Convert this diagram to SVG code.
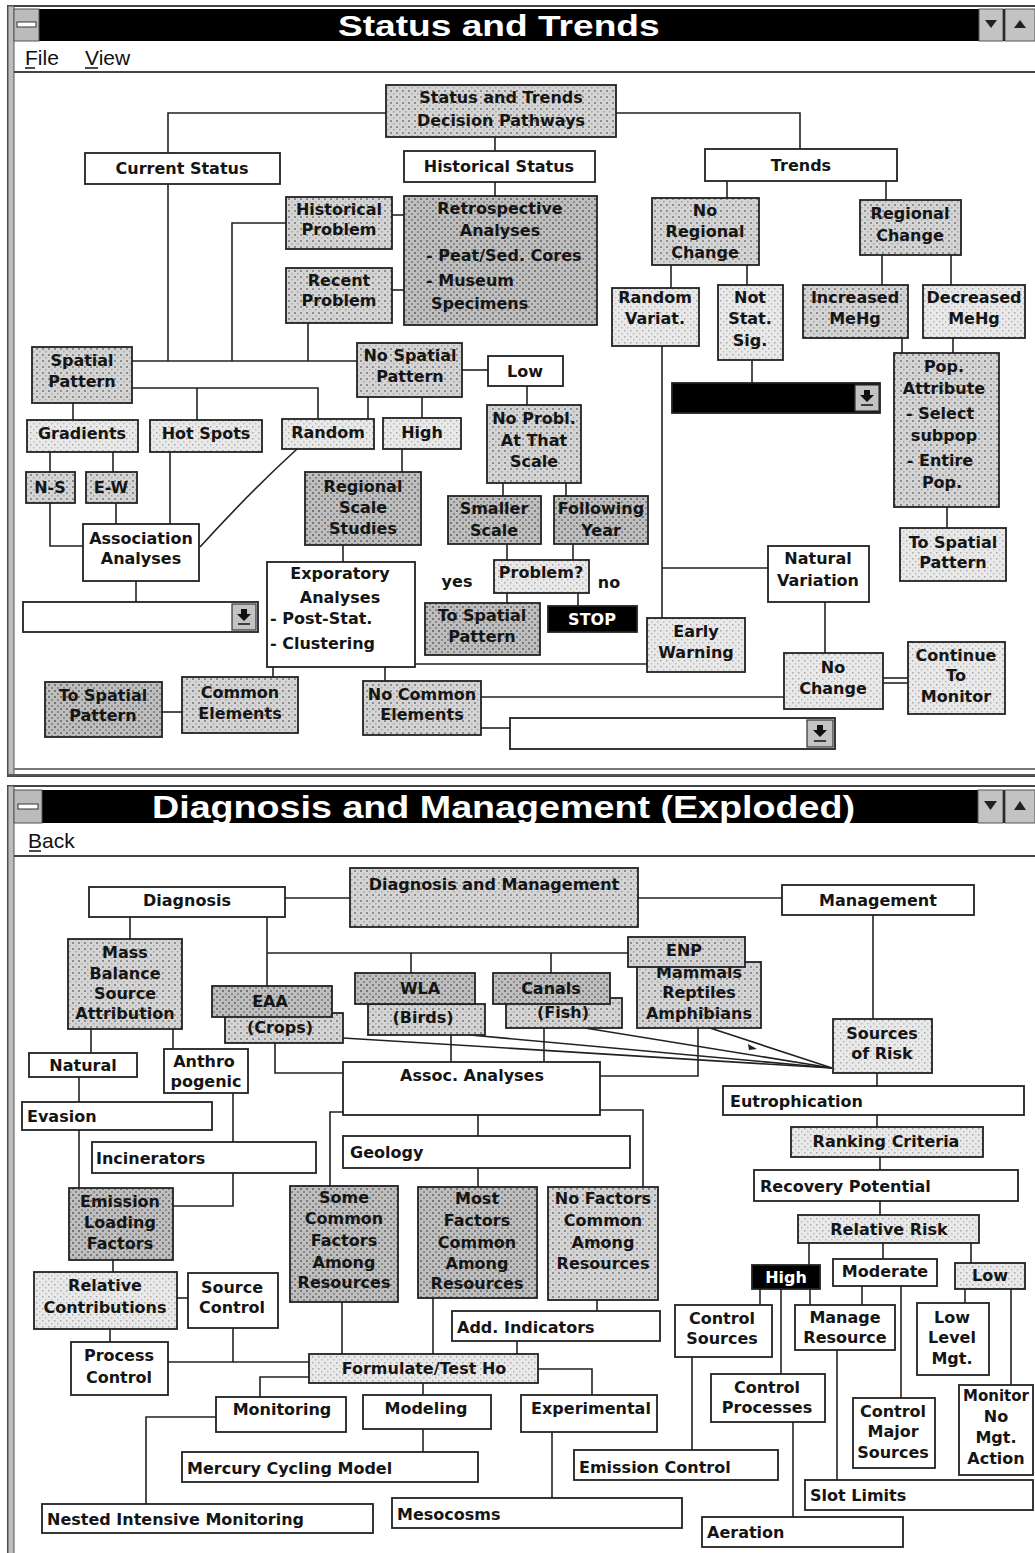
<svg xmlns="http://www.w3.org/2000/svg" width="1035" height="1553" viewBox="0 0 1035 1553">
<defs>
<pattern id="pl" width="6" height="6" patternUnits="userSpaceOnUse"><rect width="6" height="6" fill="#e9e9e9"/><rect x="0" y="0" width="1.5" height="1.5" fill="#a9a9a9"/><rect x="3" y="3" width="1.5" height="1.5" fill="#bdbdbd"/></pattern>
<pattern id="pm" width="6" height="6" patternUnits="userSpaceOnUse"><rect width="6" height="6" fill="#d4d4d4"/><rect x="0" y="0" width="2" height="2" fill="#8e8e8e"/><rect x="3" y="3" width="1.5" height="1.5" fill="#a4a4a4"/></pattern>
<pattern id="pd" width="6" height="6" patternUnits="userSpaceOnUse"><rect width="6" height="6" fill="#bebebe"/><rect x="0" y="0" width="2" height="2" fill="#777"/><rect x="3" y="3" width="2" height="2" fill="#8a8a8a"/></pattern>
<style>
.bx{stroke:#222;stroke-width:1.8}
.w{fill:#fff}
.l{fill:url(#pl)}
.m{fill:url(#pm)}
.d{fill:url(#pd)}
.k{fill:#000}
.btn{fill:#c3c3c3;stroke:#333;stroke-width:1.2}
text{font-family:"DejaVu Sans","Liberation Sans",sans-serif;font-weight:bold;font-size:16px;fill:#151515}
.t{text-anchor:middle}
.s{text-anchor:start}
.wt{fill:#fff}
.sm{font-size:15px}
text.title{font-family:"Liberation Sans",Arial,sans-serif;font-weight:bold;fill:#fff}
text.t1{font-size:30px}
text.t2{font-size:32px}
text.menu{font-family:"Liberation Sans",Arial,sans-serif;font-weight:normal;font-size:21px;fill:#111}
#connectors path{stroke:#222;stroke-width:1.6;fill:none}
</style>
</defs>

<rect width="1035" height="1553" fill="#fff"/>

<!-- Window 1 chrome -->
<g id="window-status">
<rect x="8" y="6" width="1040" height="770" fill="#fff" stroke="#444" stroke-width="2"/>
<rect x="8" y="6" width="6" height="770" fill="#bdbdbd" stroke="#555" stroke-width="1"/>
<rect x="14" y="9" width="1021" height="32" fill="#000"/>
<rect x="14" y="9" width="25" height="32" fill="#bbb" stroke="#555"/>
<rect x="17" y="22" width="19" height="5" fill="#fff" stroke="#333"/>
<rect x="979" y="9" width="24" height="32" fill="#c3c3c3" stroke="#555"/>
<polygon points="985,20 997,20 991,28" fill="#222"/>
<rect x="1005" y="9" width="30" height="32" fill="#c3c3c3" stroke="#555"/>
<polygon points="1014,28 1026,28 1020,20" fill="#222"/>
<text class="title t1" transform="translate(338,36) scale(1.237,1)" x="0" y="0">Status and Trends</text>
<text class="menu" x="25" y="65">File</text>
<line x1="25" y1="68" x2="35" y2="68" stroke="#111" stroke-width="1.5"/>
<text class="menu" x="85" y="65">View</text>
<line x1="85" y1="68" x2="98" y2="68" stroke="#111" stroke-width="1.5"/>
<line x1="14" y1="72" x2="1035" y2="72" stroke="#444" stroke-width="2"/>
<line x1="14" y1="769" x2="1035" y2="769" stroke="#777" stroke-width="2"/>
<line x1="8" y1="775" x2="1035" y2="775" stroke="#555" stroke-width="2"/>
</g>

<!-- Window 2 chrome -->
<g id="window-diagnosis">
<rect x="8" y="786" width="1040" height="775" fill="#fff" stroke="#444" stroke-width="2"/>
<rect x="8" y="786" width="6" height="770" fill="#bdbdbd" stroke="#555" stroke-width="1"/>
<rect x="14" y="790" width="1021" height="33" fill="#000"/>
<rect x="14" y="790" width="28" height="33" fill="#bbb" stroke="#555"/>
<rect x="18" y="804" width="20" height="5" fill="#fff" stroke="#333"/>
<rect x="978" y="790" width="25" height="33" fill="#c3c3c3" stroke="#555"/>
<polygon points="984,801 997,801 990.5,810" fill="#222"/>
<rect x="1005" y="790" width="30" height="33" fill="#c3c3c3" stroke="#555"/>
<polygon points="1014,810 1026,810 1020,801" fill="#222"/>
<text class="title t2" transform="translate(152,818) scale(1.177,1)" x="0" y="0">Diagnosis and Management (Exploded)</text>
<text class="menu" x="28" y="848">Back</text>
<line x1="29" y1="851" x2="41" y2="851" stroke="#111" stroke-width="1.5"/>
<line x1="14" y1="856" x2="1035" y2="856" stroke="#444" stroke-width="2"/>
</g>

<g id="connectors">
<path d="M386,113 H168 V153"/>
<path d="M616,113 H800 V149"/>
<path d="M495,137 V151"/>
<path d="M495,182 V196"/>
<path d="M392,215 H404"/>
<path d="M392,290 H404"/>
<path d="M168,184 V361"/>
<path d="M286,223 H232 V361"/>
<path d="M308,323 V361"/>
<path d="M132,361 H357"/>
<path d="M132,388 H318 V419"/>
<path d="M197,388 V420"/>
<path d="M73,403 V420"/>
<path d="M50,452 V472"/>
<path d="M113,452 V472"/>
<path d="M50,503 V546 H83"/>
<path d="M116,503 V524"/>
<path d="M170,452 V524"/>
<path d="M297,449 Q250,492 200,547"/>
<path d="M136,581 V602"/>
<path d="M368,397 V419"/>
<path d="M422,397 V418"/>
<path d="M462,370 H488"/>
<path d="M402,449 V472"/>
<path d="M343,545 V562"/>
<path d="M527,386 V405"/>
<path d="M503,483 V496"/>
<path d="M566,483 V496"/>
<path d="M507,544 V560"/>
<path d="M573,544 V560"/>
<path d="M507,593 V603"/>
<path d="M578,593 V606"/>
<path d="M273,667 V677"/>
<path d="M385,667 V681"/>
<path d="M415,664 H647"/>
<path d="M162,712 H182"/>
<path d="M481,697 H784"/>
<path d="M481,728 H510"/>
<path d="M727,181 V198"/>
<path d="M886,181 V200"/>
<path d="M671,265 V288"/>
<path d="M747,265 V285"/>
<path d="M662,346 V618"/>
<path d="M662,568 H768"/>
<path d="M752,360 V383"/>
<path d="M882,255 V285"/>
<path d="M951,255 V285"/>
<path d="M902,338 V353"/>
<path d="M953,338 V353"/>
<path d="M947,507 V528"/>
<path d="M825,602 V653"/>
<path d="M883,678 H908"/>
<path d="M883,683 H908"/>

<path d="M285,898 H350"/>
<path d="M638,898 H782"/>
<path d="M130,917 V939"/>
<path d="M267,917 V986"/>
<path d="M267,953 H628"/>
<path d="M411,953 V973"/>
<path d="M551,953 V973"/>
<path d="M873,915 V1019"/>
<path d="M91,1029 V1053"/>
<path d="M173,1029 V1049"/>
<path d="M79,1077 V1102"/>
<path d="M79,1130 V1188"/>
<path d="M233,1093 V1142"/>
<path d="M233,1173 V1206 H173"/>
<path d="M113,1260 V1272"/>
<path d="M177,1298 H188"/>
<path d="M110,1329 V1342"/>
<path d="M168,1362 H309"/>
<path d="M233,1328 V1362"/>
<path d="M275,1043 V1073 H343"/>
<path d="M451,1035 V1062"/>
<path d="M544,1028 V1062"/>
<path d="M600,1076 H698 V1028"/>
<path d="M343,1038 L832,1068"/>
<path d="M470,1035 L832,1068"/>
<path d="M585,1028 L832,1068"/>
<path d="M710,1028 L832,1068"/>
<path d="M343,1112 H330 V1186"/>
<path d="M478,1115 V1136"/>
<path d="M478,1168 V1187"/>
<path d="M600,1110 H643 V1187"/>
<path d="M342,1302 V1354"/>
<path d="M433,1298 V1354"/>
<path d="M597,1300 V1311"/>
<path d="M517,1341 V1354"/>
<path d="M309,1377 H260 V1397"/>
<path d="M423,1383 V1395"/>
<path d="M538,1369 H592 V1395"/>
<path d="M216,1417 H146 V1504"/>
<path d="M423,1429 V1452"/>
<path d="M552,1432 V1498"/>
<path d="M877,1073 V1086"/>
<path d="M877,1115 V1127"/>
<path d="M880,1157 V1170"/>
<path d="M880,1201 V1215"/>
<path d="M809,1243 V1265"/>
<path d="M883,1243 V1259"/>
<path d="M971,1243 V1263"/>
<path d="M760,1289 V1305"/>
<path d="M781,1289 V1374"/>
<path d="M810,1289 V1305"/>
<path d="M862,1286 V1305"/>
<path d="M901,1286 V1398"/>
<path d="M965,1289 V1303"/>
<path d="M1011,1289 V1385"/>
<path d="M837,1350 V1480"/>
<path d="M692,1357 V1450"/>
<path d="M793,1422 V1517"/>
<polygon points="748,1044 757,1049 749,1050" fill="#222"/>
</g>

<g id="edge-labels">
<text class="t" x="457" y="587">yes</text>
<text class="t" x="609" y="588">no</text>
</g>

<!-- Top window nodes -->
<g id="n-sat"><rect class="bx m" x="386" y="85" width="230" height="52"/><text class="t" x="501" y="103">Status and Trends</text><text class="t" x="501" y="126">Decision Pathways</text></g>
<g id="n-current"><rect class="bx w" x="85" y="153" width="195" height="31"/><text class="t" x="182" y="174">Current Status</text></g>
<g id="n-historical"><rect class="bx w" x="404" y="151" width="191" height="31"/><text class="t" x="499" y="172">Historical Status</text></g>
<g id="n-trends"><rect class="bx w" x="705" y="149" width="192" height="32"/><text class="t" x="801" y="171">Trends</text></g>
<g id="n-histprob"><rect class="bx m" x="286" y="197" width="106" height="52"/><text class="t" x="339" y="215">Historical</text><text class="t" x="339" y="235">Problem</text></g>
<g id="n-recentprob"><rect class="bx m" x="286" y="268" width="106" height="55"/><text class="t" x="339" y="286">Recent</text><text class="t" x="339" y="306">Problem</text></g>
<g id="n-retro"><rect class="bx d" x="404" y="196" width="193" height="129"/><text class="t" x="500" y="214">Retrospective</text><text class="t" x="500" y="236">Analyses</text><text class="s" x="426" y="261">- Peat/Sed. Cores</text><text class="s" x="426" y="286">- Museum</text><text class="s" x="431" y="309">Specimens</text></g>
<g id="n-spatial"><rect class="bx m" x="32" y="347" width="100" height="56"/><text class="t" x="82" y="366">Spatial</text><text class="t" x="82" y="387">Pattern</text></g>
<g id="n-nospatial"><rect class="bx m" x="357" y="343" width="105" height="54"/><text class="t" x="410" y="361">No Spatial</text><text class="t" x="410" y="382">Pattern</text></g>
<g id="n-low"><rect class="bx w" x="488" y="356" width="75" height="30"/><text class="t" x="525" y="377">Low</text></g>
<g id="n-gradients"><rect class="bx l" x="27" y="420" width="111" height="32"/><text class="t" x="82" y="439">Gradients</text></g>
<g id="n-hotspots"><rect class="bx l" x="150" y="420" width="112" height="32"/><text class="t" x="206" y="439">Hot Spots</text></g>
<g id="n-random"><rect class="bx l" x="282" y="419" width="92" height="30"/><text class="t" x="328" y="438">Random</text></g>
<g id="n-high"><rect class="bx l" x="383" y="418" width="78" height="31"/><text class="t" x="422" y="438">High</text></g>
<g id="n-ns"><rect class="bx m" x="26" y="472" width="49" height="31"/><text class="t" x="50" y="493">N-S</text></g>
<g id="n-ew"><rect class="bx m" x="86" y="472" width="51" height="31"/><text class="t" x="111" y="493">E-W</text></g>
<g id="n-noprobl"><rect class="bx m" x="487" y="405" width="94" height="78"/><text class="t" x="534" y="424">No Probl.</text><text class="t" x="534" y="446">At That</text><text class="t" x="534" y="467">Scale</text></g>
<g id="n-regional"><rect class="bx d" x="305" y="472" width="116" height="73"/><text class="t" x="363" y="492">Regional</text><text class="t" x="363" y="513">Scale</text><text class="t" x="363" y="534">Studies</text></g>
<g id="n-association"><rect class="bx w" x="83" y="524" width="116" height="57"/><text class="t" x="141" y="544">Association</text><text class="t" x="141" y="564">Analyses</text></g>
<g id="n-smaller"><rect class="bx d" x="448" y="496" width="93" height="48"/><text class="t" x="494" y="514">Smaller</text><text class="t" x="494" y="536">Scale</text></g>
<g id="n-following"><rect class="bx d" x="554" y="496" width="94" height="48"/><text class="t" x="601" y="514">Following</text><text class="t" x="601" y="536">Year</text></g>
<g id="n-problem"><rect class="bx l" x="494" y="560" width="95" height="33"/><text class="t" x="541" y="578">Problem?</text></g>
<g id="n-tsp-mid"><rect class="bx d" x="425" y="603" width="115" height="52"/><text class="t" x="482" y="621">To Spatial</text><text class="t" x="482" y="642">Pattern</text></g>
<g id="n-stop"><rect class="bx k" x="548" y="606" width="89" height="26"/><text class="t wt" x="592" y="625">STOP</text></g>
<g id="n-exploratory"><rect class="bx w" x="267" y="562" width="148" height="105"/><text class="t" x="340" y="579">Exporatory</text><text class="t" x="340" y="603">Analyses</text><text class="s" x="270" y="624">- Post-Stat.</text><text class="s" x="270" y="649">- Clustering</text></g>
<g id="n-tsp-left"><rect class="bx d" x="45" y="682" width="117" height="55"/><text class="t" x="103" y="701">To Spatial</text><text class="t" x="103" y="721">Pattern</text></g>
<g id="n-common"><rect class="bx m" x="182" y="677" width="116" height="56"/><text class="t" x="240" y="698">Common</text><text class="t" x="240" y="719">Elements</text></g>
<g id="n-nocommon"><rect class="bx m" x="363" y="681" width="118" height="54"/><text class="t" x="422" y="700">No Common</text><text class="t" x="422" y="720">Elements</text></g>
<g id="n-noregional"><rect class="bx m" x="652" y="198" width="107" height="67"/><text class="t" x="705" y="216">No</text><text class="t" x="705" y="237">Regional</text><text class="t" x="705" y="258">Change</text></g>
<g id="n-regchange"><rect class="bx m" x="860" y="200" width="101" height="55"/><text class="t" x="910" y="219">Regional</text><text class="t" x="910" y="241">Change</text></g>
<g id="n-randvar"><rect class="bx l" x="612" y="288" width="87" height="58"/><text class="t" x="655" y="303">Random</text><text class="t" x="655" y="324">Variat.</text></g>
<g id="n-notstat"><rect class="bx l" x="718" y="285" width="65" height="75"/><text class="t" x="750" y="303">Not</text><text class="t" x="750" y="324">Stat.</text><text class="t" x="750" y="346">Sig.</text></g>
<g id="n-increased"><rect class="bx m" x="803" y="285" width="105" height="53"/><text class="t" x="855" y="303">Increased</text><text class="t" x="855" y="324">MeHg</text></g>
<g id="n-decreased"><rect class="bx l" x="923" y="285" width="102" height="53"/><text class="t" x="974" y="303">Decreased</text><text class="t" x="974" y="324">MeHg</text></g>
<g id="n-pop"><rect class="bx m" x="894" y="353" width="105" height="154"/><text class="t" x="944" y="372">Pop.</text><text class="t" x="944" y="394">Attribute</text><text class="t" x="940" y="419">- Select</text><text class="t" x="944" y="441">subpop</text><text class="t" x="940" y="466">- Entire</text><text class="t" x="942" y="488">Pop.</text></g>
<g id="n-tsp-right"><rect class="bx l" x="900" y="528" width="106" height="53"/><text class="t" x="953" y="548">To Spatial</text><text class="t" x="953" y="568">Pattern</text></g>
<g id="n-natvar"><rect class="bx w" x="768" y="546" width="101" height="56"/><text class="t" x="818" y="564">Natural</text><text class="t" x="818" y="586">Variation</text></g>
<g id="n-early"><rect class="bx l" x="647" y="618" width="98" height="54"/><text class="t" x="696" y="637">Early</text><text class="t" x="696" y="658">Warning</text></g>
<g id="n-nochange"><rect class="bx l" x="784" y="653" width="99" height="56"/><text class="t" x="833" y="673">No</text><text class="t" x="833" y="694">Change</text></g>
<g id="n-continue"><rect class="bx l" x="908" y="642" width="97" height="72"/><text class="t" x="956" y="661">Continue</text><text class="t" x="956" y="681">To</text><text class="t" x="956" y="702">Monitor</text></g>
<g id="dropdown-1"><rect class="bx w" x="23" y="602" width="235" height="30"/><rect class="btn" x="232" y="604" width="24" height="26"/><polygon points="241,609 247,609 247,614 251,614 244,621 237,614 241,614" fill="#111"/><line x1="238" y1="624" x2="250" y2="624" stroke="#111" stroke-width="1.5"/></g>
<g id="dropdown-2"><rect class="bx w" x="510" y="718" width="325" height="31"/><rect class="btn" x="807" y="720" width="26" height="27"/><polygon points="817,725 823,725 823,730 827,730 820,737 813,730 817,730" fill="#111"/><line x1="814" y1="741" x2="826" y2="741" stroke="#111" stroke-width="1.5"/></g>
<g id="dropdown-3"><rect class="bx k" x="672" y="383" width="208" height="30"/><rect class="btn" x="855" y="385" width="24" height="26"/><polygon points="864,390 870,390 870,395 874,395 867,402 860,395 864,395" fill="#111"/><line x1="861" y1="405" x2="873" y2="405" stroke="#111" stroke-width="1.5"/></g>

<!-- Bottom window nodes -->
<g id="n-diagnosis"><rect class="bx w" x="89" y="887" width="196" height="30"/><text class="t" x="187" y="906">Diagnosis</text></g>
<g id="n-dm"><rect class="bx m" x="350" y="868" width="288" height="59"/><text class="t" x="494" y="890">Diagnosis and Management</text></g>
<g id="n-management"><rect class="bx w" x="782" y="885" width="192" height="30"/><text class="t" x="878" y="906">Management</text></g>
<g id="n-mass"><rect class="bx m" x="68" y="939" width="114" height="90"/><text class="t" x="125" y="958">Mass</text><text class="t" x="125" y="979">Balance</text><text class="t" x="125" y="999">Source</text><text class="t" x="125" y="1019">Attribution</text></g>
<g id="n-eaa"><rect class="bx m" x="225" y="1013" width="118" height="30"/><text class="t" x="280" y="1033">(Crops)</text><rect class="bx d" x="212" y="986" width="120" height="31"/><text class="t" x="270" y="1007">EAA</text></g>
<g id="n-wla"><rect class="bx m" x="368" y="1004" width="117" height="31"/><text class="t" x="423" y="1023">(Birds)</text><rect class="bx d" x="355" y="973" width="120" height="31"/><text class="t" x="420" y="994">WLA</text></g>
<g id="n-canals"><rect class="bx m" x="506" y="998" width="116" height="30"/><text class="t" x="563" y="1018">(Fish)</text><rect class="bx d" x="493" y="973" width="117" height="31"/><text class="t" x="551" y="994">Canals</text></g>
<g id="n-enp"><rect class="bx m" x="637" y="962" width="124" height="66"/><text class="t" x="699" y="978">Mammals</text><text class="t" x="699" y="998">Reptiles</text><text class="t" x="699" y="1019">Amphibians</text><rect class="bx m" x="628" y="937" width="117" height="30"/><text class="t" x="684" y="956">ENP</text></g>
<g id="n-sources"><rect class="bx l" x="833" y="1019" width="99" height="54"/><text class="t" x="882" y="1039">Sources</text><text class="t" x="882" y="1059">of Risk</text></g>
<g id="n-natural"><rect class="bx w" x="29" y="1053" width="108" height="24"/><text class="t" x="83" y="1071">Natural</text></g>
<g id="n-anthro"><rect class="bx w" x="164" y="1049" width="84" height="44"/><text class="t" x="204" y="1067">Anthro</text><text class="t" x="206" y="1087">pogenic</text></g>
<g id="n-assocan"><rect class="bx w" x="343" y="1062" width="257" height="53"/><text class="t" x="472" y="1081">Assoc. Analyses</text></g>
<g id="n-evasion"><rect class="bx w" x="22" y="1102" width="190" height="28"/><text class="s" x="27" y="1122">Evasion</text></g>
<g id="n-incinerators"><rect class="bx w" x="92" y="1142" width="224" height="31"/><text class="s" x="96" y="1164">Incinerators</text></g>
<g id="n-eutro"><rect class="bx w" x="723" y="1086" width="301" height="29"/><text class="s" x="730" y="1107">Eutrophication</text></g>
<g id="n-geology"><rect class="bx w" x="343" y="1136" width="287" height="32"/><text class="s" x="350" y="1158">Geology</text></g>
<g id="n-ranking"><rect class="bx l" x="791" y="1127" width="192" height="30"/><text class="t" x="886" y="1147">Ranking Criteria</text></g>
<g id="n-recovery"><rect class="bx w" x="754" y="1170" width="264" height="31"/><text class="s" x="760" y="1192">Recovery Potential</text></g>
<g id="n-relrisk"><rect class="bx l" x="798" y="1215" width="181" height="28"/><text class="t" x="889" y="1235">Relative Risk</text></g>
<g id="n-emission"><rect class="bx d" x="69" y="1188" width="104" height="72"/><text class="t" x="120" y="1207">Emission</text><text class="t" x="120" y="1228">Loading</text><text class="t" x="120" y="1249">Factors</text></g>
<g id="n-some"><rect class="bx d" x="290" y="1186" width="108" height="116"/><text class="t" x="344" y="1203">Some</text><text class="t" x="344" y="1224">Common</text><text class="t" x="344" y="1246">Factors</text><text class="t" x="344" y="1268">Among</text><text class="t" x="344" y="1288">Resources</text></g>
<g id="n-most"><rect class="bx d" x="418" y="1187" width="119" height="111"/><text class="t" x="477" y="1204">Most</text><text class="t" x="477" y="1226">Factors</text><text class="t" x="477" y="1248">Common</text><text class="t" x="477" y="1269">Among</text><text class="t" x="477" y="1289">Resources</text></g>
<g id="n-nofactors"><rect class="bx m" x="548" y="1187" width="110" height="113"/><text class="t" x="603" y="1204">No Factors</text><text class="t" x="603" y="1226">Common</text><text class="t" x="603" y="1248">Among</text><text class="t" x="603" y="1269">Resources</text></g>
<g id="n-relcontrib"><rect class="bx l" x="34" y="1272" width="143" height="57"/><text class="t" x="105" y="1291">Relative</text><text class="t" x="105" y="1313">Contributions</text></g>
<g id="n-srcctrl"><rect class="bx w" x="188" y="1273" width="90" height="55"/><text class="t" x="232" y="1293">Source</text><text class="t" x="232" y="1313">Control</text></g>
<g id="n-procctrl"><rect class="bx w" x="71" y="1342" width="97" height="53"/><text class="t" x="119" y="1361">Process</text><text class="t" x="119" y="1383">Control</text></g>
<g id="n-addind"><rect class="bx w" x="452" y="1311" width="208" height="30"/><text class="s" x="457" y="1333">Add. Indicators</text></g>
<g id="n-formulate"><rect class="bx l" x="309" y="1354" width="229" height="29"/><text class="t" x="424" y="1374">Formulate/Test Ho</text></g>
<g id="n-monitoring"><rect class="bx w" x="216" y="1397" width="130" height="35"/><text class="t" x="282" y="1415">Monitoring</text></g>
<g id="n-modeling"><rect class="bx w" x="363" y="1395" width="128" height="34"/><text class="t" x="426" y="1414">Modeling</text></g>
<g id="n-experimental"><rect class="bx w" x="521" y="1395" width="136" height="37"/><text class="t" x="591" y="1414">Experimental</text></g>
<g id="n-mercury"><rect class="bx w" x="182" y="1452" width="296" height="30"/><text class="s" x="187" y="1474">Mercury Cycling Model</text></g>
<g id="n-nested"><rect class="bx w" x="42" y="1504" width="331" height="29"/><text class="s" x="47" y="1525">Nested Intensive Monitoring</text></g>
<g id="n-mesocosms"><rect class="bx w" x="392" y="1498" width="290" height="30"/><text class="s" x="397" y="1520">Mesocosms</text></g>
<g id="n-emctrl"><rect class="bx w" x="574" y="1450" width="204" height="30"/><text class="s" x="579" y="1473">Emission Control</text></g>
<g id="n-high2"><rect class="bx k" x="752" y="1265" width="68" height="24"/><text class="t wt" x="786" y="1283">High</text></g>
<g id="n-moderate"><rect class="bx w" x="833" y="1259" width="104" height="27"/><text class="t" x="885" y="1277">Moderate</text></g>
<g id="n-low2"><rect class="bx l" x="955" y="1263" width="70" height="26"/><text class="t" x="990" y="1281">Low</text></g>
<g id="n-ctrlsrc"><rect class="bx w" x="675" y="1305" width="97" height="52"/><text class="t" x="722" y="1324">Control</text><text class="t" x="722" y="1344">Sources</text></g>
<g id="n-manage"><rect class="bx w" x="795" y="1305" width="100" height="45"/><text class="t" x="845" y="1323">Manage</text><text class="t" x="845" y="1343">Resource</text></g>
<g id="n-ctrlproc"><rect class="bx w" x="711" y="1374" width="114" height="48"/><text class="t" x="767" y="1393">Control</text><text class="t" x="767" y="1413">Processes</text></g>
<g id="n-ctrlmajor"><rect class="bx w" x="853" y="1398" width="82" height="70"/><text class="t" x="893" y="1417">Control</text><text class="t" x="893" y="1437">Major</text><text class="t" x="893" y="1458">Sources</text></g>
<g id="n-lowlevel"><rect class="bx w" x="917" y="1303" width="72" height="72"/><text class="t" x="952" y="1323">Low</text><text class="t" x="952" y="1343">Level</text><text class="t" x="952" y="1364">Mgt.</text></g>
<g id="n-monitor"><rect class="bx w" x="959" y="1385" width="74" height="90"/><text class="t sm" x="996" y="1401">Monitor</text><text class="t" x="996" y="1422">No</text><text class="t" x="996" y="1443">Mgt.</text><text class="t" x="996" y="1464">Action</text></g>
<g id="n-slot"><rect class="bx w" x="805" y="1480" width="228" height="30"/><text class="s" x="810" y="1501">Slot Limits</text></g>
<g id="n-aeration"><rect class="bx w" x="702" y="1517" width="201" height="30"/><text class="s" x="707" y="1538">Aeration</text></g>
</svg>
